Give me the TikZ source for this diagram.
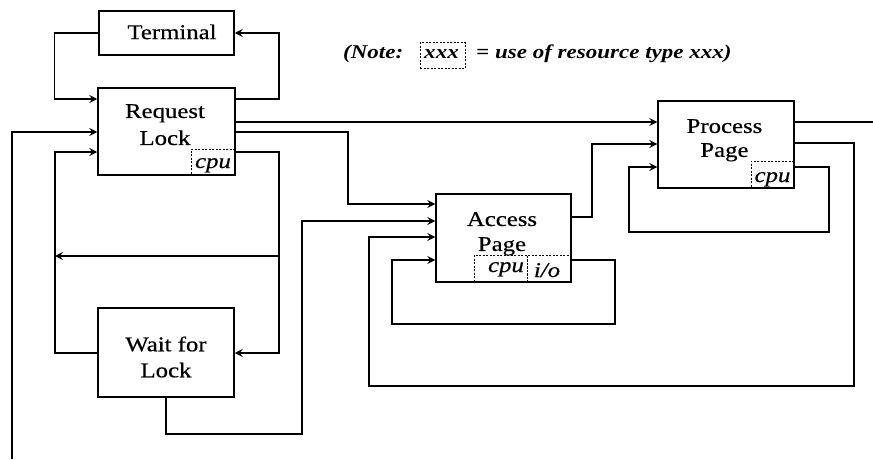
\documentclass[tikz,border=0pt]{standalone}
\usepackage{fontspec}
\setmainfont{Liberation Serif}[FakeStretch=1.18, UprightFeatures={FakeBold=0.5}, ItalicFeatures={FakeBold=0.5}]
\usetikzlibrary{arrows.meta,calc}
\begin{document}
\begin{tikzpicture}[x=1pt,y=-1pt,
  box/.style={draw, line width=1.5pt, inner sep=0pt},
  res/.style={draw, dash pattern=on 2pt off 1.5pt, line width=1pt, inner sep=0pt},
  lbl/.style={align=center, inner sep=0pt},
  restxt/.style={font=\fontsize{21}{21}\selectfont\itshape, inner sep=0pt, anchor=base},
  notef/.style={font=\fontsize{19.5}{22}\selectfont\bfseries\itshape, inner sep=0pt},
  con/.style={line width=1.3pt},
  arr/.style={con, -{Stealth[length=8pt,width=8pt,inset=3pt]}}]
\useasboundingbox (0,0) rectangle (873,460);

% resource boxes (dashed)
\node[res, minimum width=44pt, minimum height=26pt] (rlcpu) at (213,162) {};
\node[res, minimum width=44pt, minimum height=27pt] (apio) at (549,268.5) {};
\node[res, minimum width=53pt, minimum height=27pt] (apcpu) at (500.5,268.5) {};
\node[res, minimum width=43pt, minimum height=27pt] (ppcpu) at (772.5,174.5) {};

% main boxes
\node[box, minimum width=135pt, minimum height=44pt] (term) at (166.5,33) {};
\node[box, minimum width=137pt, minimum height=87pt] (rl) at (166.5,131.5) {};
\node[box, minimum width=136pt, minimum height=89pt] (wl) at (166,352.5) {};
\node[box, minimum width=135pt, minimum height=88pt] (ap) at (503.5,238) {};
\node[box, minimum width=136pt, minimum height=87pt] (pp) at (726,144.5) {};

% labels
\node[lbl, font=\fontsize{21}{26}\selectfont] (termt) at (172,31.9) {Terminal};
\node[lbl, font=\fontsize{21}{27}\selectfont] (rlt) at (165,124.7) {Request\\Lock};
\node[lbl, font=\fontsize{21}{26}\selectfont] (wlt) at (166,357) {Wait for\\Lock};
\node[lbl, font=\fontsize{21}{25}\selectfont] (apt) at (502,233.8) {Access\\Page};
\node[lbl, font=\fontsize{21}{24}\selectfont] (ppt) at (724.5,140.3) {Process\\Page};

\node[restxt] (rlcput) at (213,168) {cpu};
\node[restxt] (apcput) at (506,272) {cpu};
\node[restxt] (apiot) at (547,277) {i/o};
\node[restxt] (ppcput) at (772.5,182) {cpu};

% note
\node[notef, anchor=base west] (n1) at (343,59) {(Note:};
\node[res, minimum width=45pt, minimum height=26pt] (n2) at (442.5,56) {};
\node[notef, anchor=base] (n2t) at (441.5,59) {xxx};
\node[notef, anchor=base west] (n3) at (476,59) {= use of resource type xxx)};

% free-end coordinates
\coordinate (j1) at (279,256);
\coordinate (j2) at (55,256);
\coordinate (lb) at (12,459);
\coordinate (ro) at (873,122);

% connectors
\draw[arr] (term.west) -- ++(-44,0) |- (rl.west |- 0,99);
\draw[arr] (rl.east |- 0,99) -- (279,99) |- (term.east);
\draw[arr] (rl.east |- 0,122) -- (pp.west |- 0,122);
\draw[arr] (rl.east |- 0,132) -- (348,132) |- (ap.west |- 0,204);
\draw[arr] (rl.east |- 0,152) -- (279,152) |- (wl.east |- 0,353);
\draw[arr] (j1) -- (j2);
\draw[arr] (wl.west |- 0,353) -- (55,353) |- (rl.west |- 0,152);
\draw[arr] (wl.south) |- (302,434) |- (ap.west |- 0,221);
\draw[arr] (lb) |- (rl.west |- 0,132);
\draw[arr] (ap.east |- 0,217) -- (592,217) |- (pp.west |- 0,144);
\draw[arr] (ap.east |- 0,260) -- (615,260) |- (392,324) |- (ap.west |- 0,260);
\draw[arr] (pp.east |- 0,143) -- (854,143) |- (369,386) |- (ap.west |- 0,237);
\draw[arr] (pp.east |- 0,167) -- (829,167) |- (629,232) |- (pp.west |- 0,167);
\draw[con] (pp.east |- 0,122) -- (ro);
\end{tikzpicture}
\end{document}
